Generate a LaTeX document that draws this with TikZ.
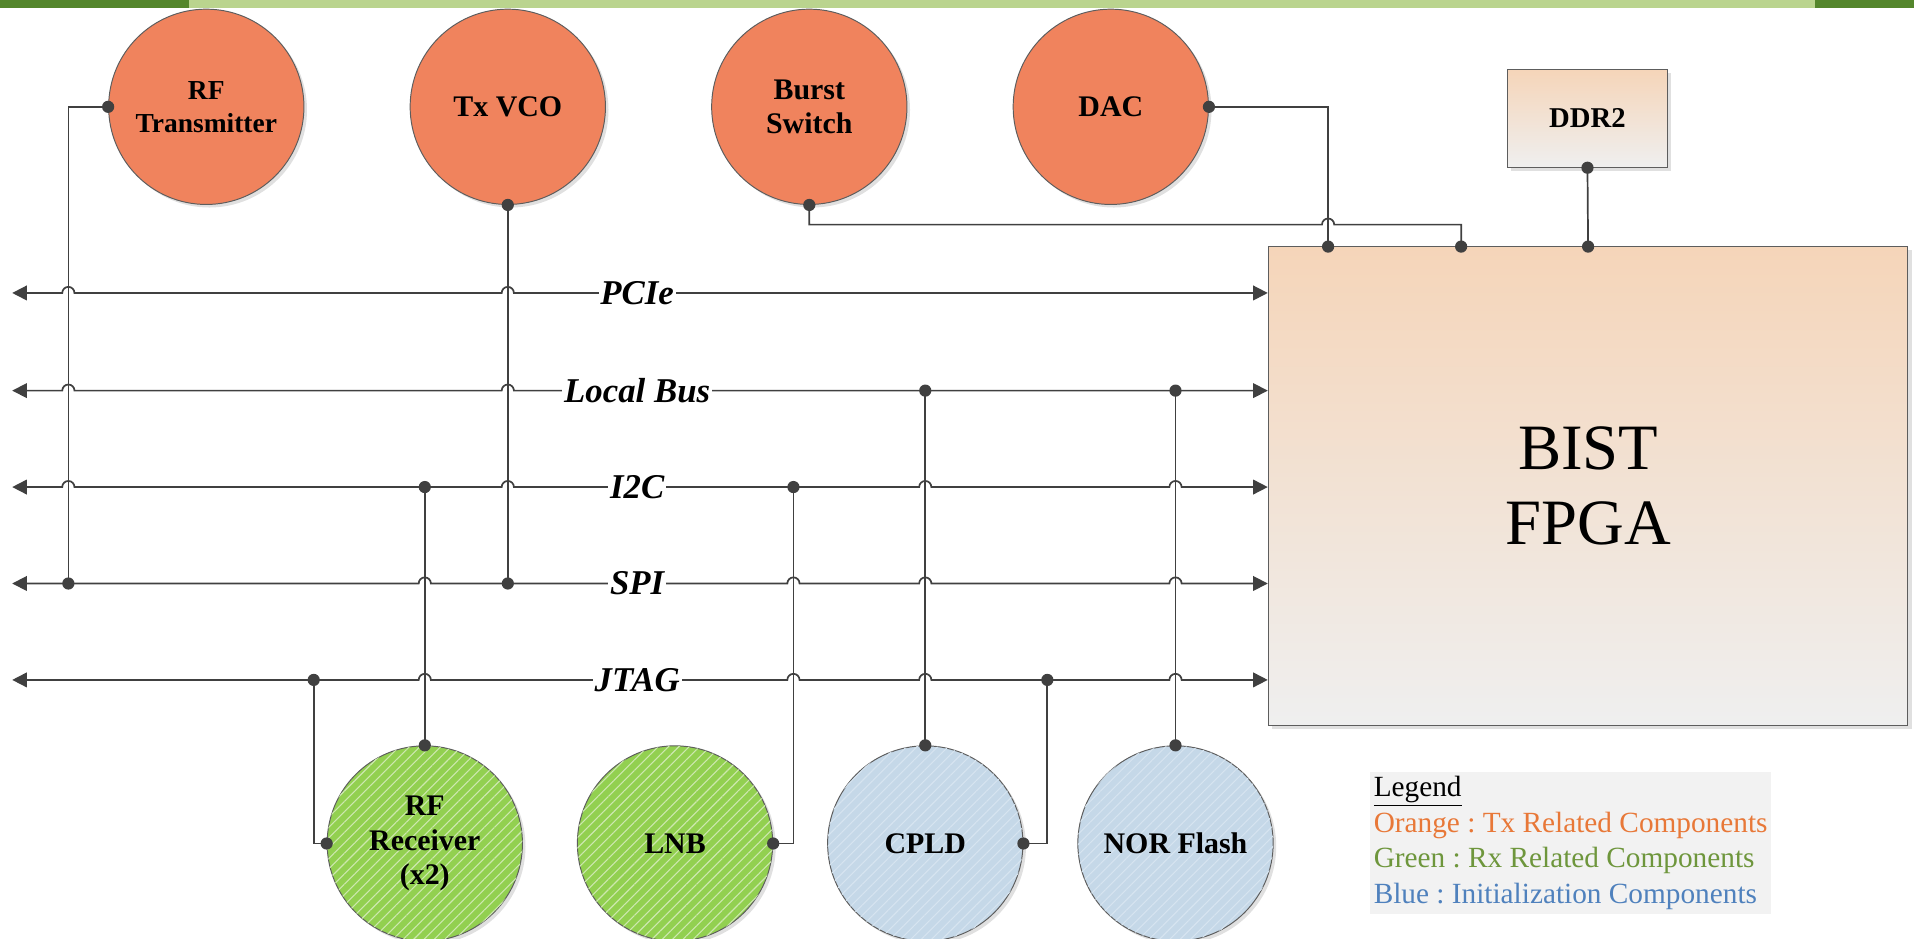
\documentclass[tikz,border=0pt]{standalone}
\usepackage{fontspec}
\setmainfont{Liberation Serif}
\usetikzlibrary{arrows.meta,shadows,patterns.meta,calc}
\definecolor{ln}{RGB}{64,64,64}
\definecolor{orangec}{RGB}{240,131,93}
\definecolor{greenc}{RGB}{146,208,80}
\definecolor{greenhatch}{RGB}{205,232,175}
\definecolor{bluec}{RGB}{197,216,232}
\definecolor{bluehatch}{RGB}{214,228,240}
\definecolor{peach}{RGB}{245,213,185}
\definecolor{lightg}{RGB}{239,239,239}
\definecolor{legbg}{RGB}{242,242,242}
\definecolor{legorange}{RGB}{232,120,56}
\definecolor{leggreen}{RGB}{110,150,60}
\definecolor{legblue}{RGB}{79,129,189}
\definecolor{bandark}{RGB}{84,134,44}
\definecolor{bandlight}{RGB}{186,212,142}
\tikzset{
 comp/.style={circle, draw=ln!85, line width=0.8pt, minimum size=160pt, inner sep=0pt, align=center,
   font=\bfseries\fontsize{24.5}{28}\selectfont,
   drop shadow={shadow xshift=2.5pt, shadow yshift=-2.5pt, fill=black!20, opacity=0.6}},
 txc/.style={comp, fill=orangec},
 rxc/.style={comp, fill=greenc, postaction={pattern={Lines[angle=45,distance=6pt,line width=0.9pt]}, pattern color=greenhatch}},
 initc/.style={comp, fill=bluec, postaction={pattern={Lines[angle=45,distance=6pt,line width=0.9pt]}, pattern color=bluehatch}},
 wire/.style={draw=ln, line width=1.4pt},
 bus/.style={wire, {Triangle[length=12pt,width=12pt]}-{Triangle[length=12pt,width=12pt]}},
 jdot/.style={circle, fill=ln, inner sep=0pt, minimum size=10pt},
 buslabel/.style={fill=white, inner sep=1.5pt, font=\bfseries\itshape\fontsize{28.5}{31}\selectfont},
 boxc/.style={draw=ln!85, line width=0.8pt, top color=peach, bottom color=lightg, inner sep=0pt,
   drop shadow={shadow xshift=3pt, shadow yshift=-3pt, fill=black!20, opacity=0.6}},
}
\begin{document}
\frenchspacing
\begin{tikzpicture}[x=1pt,y=-1pt]
\useasboundingbox (0,0) rectangle (1568,769);
% banner
\fill[bandark] (0,0) rectangle (155,6.5);
\fill[bandlight] (155,0) rectangle (1487,6.5);
\fill[bandark] (1487,0) rectangle (1568,6.5);

% top components
\node[txc, font=\bfseries\fontsize{22.5}{27}\selectfont] (rftx) at (169,87.5) {RF\\Transmitter};
\node[txc] (txvco) at (416,87.5) {Tx VCO};
\node[txc] (burst) at (663,87.5) {Burst\\Switch};
\node[txc] (dac) at (910,87.5) {DAC};
% bottom components
\node[rxc] (rfrx) at (348,691) {RF\\Receiver\\(x2)};
\node[rxc] (lnb) at (553,691) {LNB};
\node[initc] (cpld) at (758,691) {CPLD};
\node[initc] (nor) at (963,691) {NOR Flash};
% boxes
\node[boxc, minimum width=131pt, minimum height=80pt, font=\bfseries\fontsize{23.5}{27}\selectfont] (ddr) at (1300.5,97) {DDR2};
\node[boxc, minimum width=524pt, minimum height=392pt, align=center, font=\fontsize{53}{62}\selectfont] (fpga) at (1301,398) {BIST\\FPGA};

% bus end coordinates
\coordinate (pcL) at (10,240);
\coordinate (lbL) at (10,320);
\coordinate (i2L) at (10,399);
\coordinate (spL) at (10,478);
\coordinate (jtL) at (10,557);
% junctions
\coordinate (spA) at (56,478);
\coordinate (spB) at (416,478);
\coordinate (i2A) at (348,399);
\coordinate (i2B) at (650,399);
\coordinate (lbA) at (758,320);
\coordinate (lbB) at (963,320);
\coordinate (jtA) at (257,557);
\coordinate (jtB) at (858,557);
\coordinate (fa) at (1088,202);
\coordinate (fb) at (1197,202);
\coordinate (fc) at (1301,202);
\coordinate (bh) at (1083,184);

% buses with hops
\draw[bus] (pcL) \foreach \x in {56,416} { -- (\x-5,240) arc[start angle=180,end angle=0,radius=5pt] } -- (pcL -| fpga.west);
\draw[bus] (lbL) \foreach \x in {56,416} { -- (\x-5,320) arc[start angle=180,end angle=0,radius=5pt] } -- (lbL -| fpga.west);
\draw[bus] (i2L) \foreach \x in {56,416,758,963} { -- (\x-5,399) arc[start angle=180,end angle=0,radius=5pt] } -- (i2L -| fpga.west);
\draw[bus] (spL) \foreach \x in {348,650,758,963} { -- (\x-5,478) arc[start angle=180,end angle=0,radius=5pt] } -- (spL -| fpga.west);
\draw[bus] (jtL) \foreach \x in {348,650,758,963} { -- (\x-5,557) arc[start angle=180,end angle=0,radius=5pt] } -- (jtL -| fpga.west);

% labels
\node[buslabel] at (522,240) {PCIe};
\node[buslabel] at (522,320) {Local Bus};
\node[buslabel] at (522,399) {I2C};
\node[buslabel] at (522,478) {SPI};
\node[buslabel] at (522,557) {JTAG};

% connections
\draw[wire] (rftx.west) -| (spA);
\draw[wire] (txvco.south) -- (spB);
\draw[wire] (burst.south) |- (bh) arc[start angle=180,end angle=0,radius=5pt] -| (fb);
\draw[wire] (dac.east) -| (fa);
\draw[wire] (ddr.south) -- (fc);
\draw[wire] (rfrx.north) -- (i2A);
\draw[wire] (rfrx.west) -| (jtA);
\draw[wire] (lnb.east) -| (i2B);
\draw[wire] (cpld.north) -- (lbA);
\draw[wire] (cpld.east) -| (jtB);
\draw[wire] (nor.north) -- (lbB);

% dots
\foreach \p in {rftx.west, spA, txvco.south, spB, burst.south, fb, dac.east, fa, ddr.south, fc,
  rfrx.north, i2A, rfrx.west, jtA, lnb.east, i2B, cpld.north, lbA, cpld.east, jtB, nor.north, lbB}
  \node[jdot] at (\p) {};

% legend
\node[fill=legbg, anchor=north west, inner xsep=0pt, inner ysep=4pt, align=left, minimum width=329pt,
  font=\fontsize{24}{29}\selectfont] (legend) at (1122,632)
  {\underline{Legend}\\
   \textcolor{legorange}{Orange : Tx Related Components}\\
   \textcolor{leggreen}{Green : Rx Related Components}\\
   \textcolor{legblue}{Blue : Initialization Components}};
\end{tikzpicture}
\end{document}
